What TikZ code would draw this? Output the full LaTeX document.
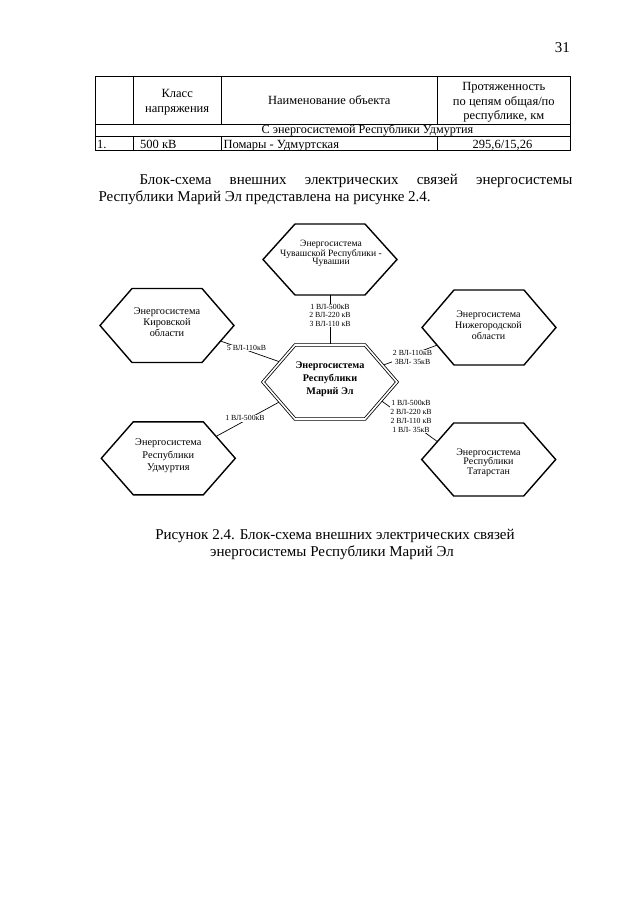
\documentclass[tikz,border=0pt]{standalone}
\usepackage{fontspec}
\setmainfont{Liberation Serif}
\usetikzlibrary{calc}
\newcommand\hexpath[2]{\draw[#2] (#1.west) -- ([xshift=32pt]#1.north west) -- ([xshift=-32pt]#1.north east) -- (#1.east) -- ([xshift=-32pt]#1.south east) -- ([xshift=32pt]#1.south west) -- cycle;}
\tikzset{
  hexa/.style={minimum width=134pt, minimum height=#1, inner sep=0pt, outer sep=0pt},
  hexline/.style={line width=1.4pt, line join=miter},
  hexdouble/.style={double, line width=0.8pt, double distance=1.6pt, line join=miter},
  htext/.style={align=center, inner sep=0pt, font=\fontsize{10.3}{11.3}\selectfont},
  lbl/.style={align=center, fill=white, inner sep=0.8pt, font=\fontsize{7.8}{8.2}\selectfont},
  conn/.style={line width=0.7pt},
  tline/.style={line width=0.8pt},
  ttext/.style={inner sep=0pt, font=\fontsize{12.5}{14.6}\selectfont},
  body/.style={inner sep=0pt, font=\fontsize{15}{17}\selectfont},
}
\begin{document}
\begin{tikzpicture}[x=1pt,y=-1pt]
\useasboundingbox[fill=white] (0,0) rectangle (640,905);

% page number
\node[body, anchor=base east] (pnum) at (570,52.5) {31};

% table
\draw[tline] (95,76.7) rectangle (570,150.7);
\draw[tline] (95,124.3) -- (570,124.3);
\draw[tline] (95,136) -- (570,136);
\foreach \x in {133.3,221,437.7} {
  \draw[tline] (\x,76.7) -- (\x,124.3);
  \draw[tline] (\x,136) -- (\x,150.7);
}
\node[ttext, align=center, anchor=center] (h2) at (177.2,102.5) {Класс\\напряжения};
\node[ttext, anchor=base] (h3) at (329.3,104.7) {Наименование объекта};
\node[ttext, align=center, anchor=center] (h4) at (503.8,102.5) {Протяженность\\по цепям общая/по\\республике, км};
\node[ttext, anchor=base, font=\fontsize{12.2}{14}\selectfont] (r2) at (367.5,133.6) {С энергосистемой Республики Удмуртия};
\node[ttext, anchor=base west] (r3a) at (97,148.5) {1.};
\node[ttext, anchor=base west] (r3b) at (140,148.5) {500 кВ};
\node[ttext, anchor=base west] (r3c) at (223.3,148.5) {Помары - Удмуртская};
\node[ttext, anchor=base] (r3d) at (502.5,148.5) {295,6/15,26};

% paragraph
\node[body, anchor=base west] (p1) at (139.3,184.5) {\makebox[433pt][s]{Блок-схема внешних электрических связей энергосистемы}};
\node[body, anchor=base west] (p2) at (98.3,201) {Республики Марий Эл представлена на рисунке 2.4.};

% hexagons
\node[hexa=71pt] (chuv) at (330,259.5) {};
\node[hexa=74pt] (kir) at (167,325.5) {};
\node[hexa=74pt] (ctr) at (330,382) {};
\node[hexa=75pt] (nizh) at (489,327.5) {};
\node[hexa=73pt] (udm) at (168.3,458.3) {};
\node[hexa=73pt] (tat) at (488.7,459.5) {};

% connectors
\draw[conn] (chuv.south) -- (ctr.north);
\draw[conn] ($(kir.east)!0.42!([xshift=-32pt]kir.south east)$) -- ($(ctr.west)!0.54!([xshift=32pt]ctr.north west)$);
\draw[conn] ($(ctr.east)!0.45!([xshift=-32pt]ctr.north east)$) -- ($(nizh.west)!0.47!([xshift=32pt]nizh.south west)$);
\draw[conn] ($(ctr.west)!0.53!([xshift=32pt]ctr.south west)$) -- ($(udm.east)!0.6!([xshift=-32pt]udm.north east)$);
\draw[conn] ($(ctr.east)!0.5!([xshift=-32pt]ctr.south east)$) -- ($(tat.west)!0.49!([xshift=32pt]tat.north west)$);

\hexpath{chuv}{hexline}
\hexpath{kir}{hexline}
\hexpath{nizh}{hexline}
\hexpath{udm}{hexline}
\hexpath{tat}{hexline}
\hexpath{ctr}{hexdouble}

% hexagon texts
\node[htext, font=\fontsize{9.6}{8.6}\selectfont] (chuv-t) at (331,253.3) {Энергосистема\\Чувашской Республики -\\Чувашии};
\node[htext] (kir-t) at (167,322) {Энергосистема\\Кировской\\области};
\node[htext, font=\bfseries\fontsize{10.2}{12.8}\selectfont] (ctr-t) at (330,379) {Энергосистема\\Республики\\Марий Эл};
\node[htext, font=\fontsize{10}{11.3}\selectfont] (nizh-t) at (488.5,325.3) {Энергосистема\\Нижегородской\\области};
\node[htext, font=\fontsize{10.3}{12.5}\selectfont] (udm-t) at (168.3,455.8) {Энергосистема\\Республики\\Удмуртия};
\node[htext, font=\fontsize{10}{9.6}\selectfont] (tat-t) at (488.5,462.5) {Энергосистема\\Республики\\Татарстан};

% connector labels
\node[lbl] (l-chuv) at (330,315.3) {1 ВЛ-500кВ\\2 ВЛ-220 кВ\\3 ВЛ-110 кВ};
\node[lbl] (l-kir) at (246.5,348) {5 ВЛ-110кВ};
\node[lbl] (l-nizh) at (412.5,357.5) {2 ВЛ-110кВ\\3ВЛ- 35кВ};
\node[lbl] (l-udm) at (245,418.3) {1 ВЛ-500кВ};
\node[lbl, font=\fontsize{7.8}{9}\selectfont] (l-tat) at (411,416.5) {1 ВЛ-500кВ\\2 ВЛ-220 кВ\\2 ВЛ-110 кВ\\1 ВЛ- 35кВ};

% caption
\node[body, anchor=base] (cap1) at (335,539.5) {Рисунок 2.4. Блок-схема внешних электрических связей};
\node[body, anchor=base] (cap2) at (332,556) {энергосистемы Республики Марий Эл};
\end{tikzpicture}
\end{document}
